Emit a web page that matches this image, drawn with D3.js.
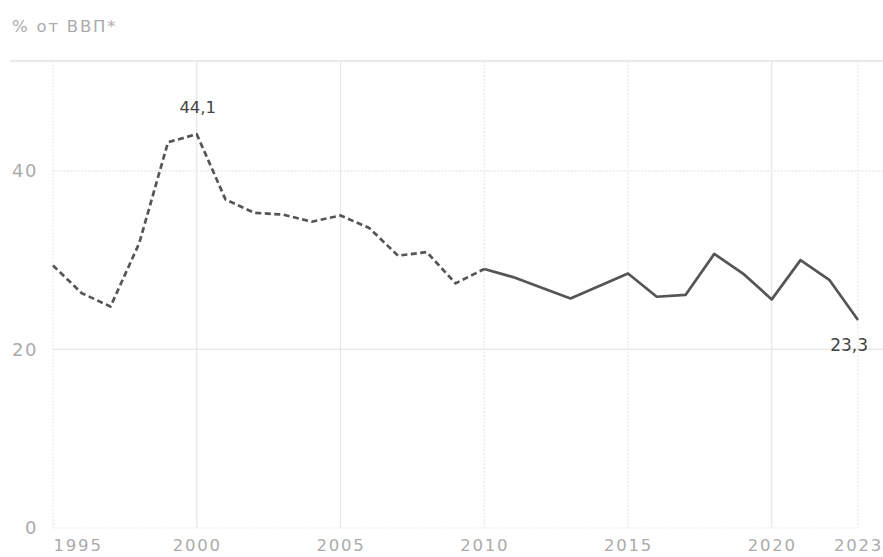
<!DOCTYPE html>
<html>
<head>
<meta charset="utf-8">
<script src="https://cdn.jsdelivr.net/npm/d3@7"></script>
<style>
  html, body { margin: 0; padding: 0; background: #fff; }
  svg { display: block; }
  text { font-family: "DejaVu Sans", sans-serif; }
</style>
</head>
<body>
<svg id="chart" width="883" height="557"></svg>
<script>
// ---- data ----
const years = [1995,1996,1997,1998,1999,2000,2001,2002,2003,2004,2005,2006,2007,2008,2009,
               2010,2011,2012,2013,2014,2015,2016,2017,2018,2019,2020,2021,2022,2023];
const values = [29.4,26.3,24.8,31.9,43.2,44.1,36.8,35.3,35.1,34.3,35.0,33.6,30.5,30.9,27.4,
                29.0,28.1,26.9,25.7,27.1,28.5,25.9,26.1,30.7,28.5,25.6,30.0,27.8,23.3];
const dashedUntil = 2010;           // dashed segment 1995–2010, solid after
const xTicks = [1995, 2000, 2005, 2010, 2015, 2020, 2023];
const yTicks = [0, 20, 40];
const yTop = 52.3;
const unitLabel = "% от ВВП*";
const annotations = [
  { year: 2000, value: 44.1, text: "44,1" },
  { year: 2023, value: 23.3, text: "23,3" }
];

// ---- layout ----
const svg = d3.select("#chart");
const x = d3.scaleLinear().domain([1995, 2023]).range([53, 858]);
const y = d3.scaleLinear().domain([0, yTop]).range([528, 61]);
const grid = "#e6e6e6";
const labelColor = "#ababab";

// title
svg.append("text").attr("x", 12).attr("y", 32)
  .attr("font-size", 16.5).attr("letter-spacing", 1.8).attr("fill", labelColor).text(unitLabel);

// top frame line
svg.append("line").attr("x1", 10).attr("x2", 883)
  .attr("y1", y(yTop)).attr("y2", y(yTop))
  .attr("stroke", "#e3e3e3").attr("stroke-width", 1.5);

// vertical gridlines
svg.append("g").selectAll("line").data(xTicks).join("line")
  .attr("x1", d => x(d)).attr("x2", d => x(d))
  .attr("y1", y(yTop)).attr("y2", y(0))
  .attr("stroke", grid).attr("stroke-width", 1.2)
  .attr("stroke-dasharray", d => (d === 1995 || d === 2010 || d === 2015 || d === 2023) ? "2,1.5" : null);

// horizontal gridlines
svg.append("g").selectAll("line").data(yTicks).join("line")
  .attr("x1", 53).attr("x2", d => d === 0 ? 858 : 883)
  .attr("y1", d => y(d)).attr("y2", d => y(d))
  .attr("stroke", grid).attr("stroke-width", 1.2)
  .attr("stroke-dasharray", d => (d === 0 || d === 40) ? "2,1.5" : null);

// y axis labels
const yAxis = d3.axisLeft(y).tickValues(yTicks).tickSize(0).tickPadding(0).tickFormat(d3.format("d"));
const gy = svg.append("g").attr("transform", "translate(38,0)").call(yAxis);
gy.select(".domain").remove();
gy.selectAll("text").attr("font-size", 18).attr("letter-spacing", 1.5).attr("fill", labelColor)
  .attr("font-family", "DejaVu Sans, sans-serif");

// x axis labels
const xAxis = d3.axisBottom(x).tickValues(xTicks).tickSize(0).tickPadding(0).tickFormat(d3.format("d"));
const gx = svg.append("g").attr("transform", "translate(0,551)").call(xAxis);
gx.select(".domain").remove();
gx.selectAll("text").attr("font-size", 16.5).attr("letter-spacing", 1.8).attr("fill", labelColor)
  .attr("font-family", "DejaVu Sans, sans-serif")
  .attr("text-anchor", d => d === 1995 ? "start" : "middle")
  .attr("y", 0).attr("dy", 0);

// line
const pts = years.map((yr, i) => ({ yr, v: values[i] }));
const line = d3.line().x(d => x(d.yr)).y(d => y(d.v));
svg.append("path").datum(pts.filter(d => d.yr <= dashedUntil))
  .attr("d", line).attr("fill", "none").attr("stroke", "#555")
  .attr("stroke-width", 2.7).attr("stroke-dasharray", "6,3.5").attr("stroke-linejoin", "round");
svg.append("path").datum(pts.filter(d => d.yr >= dashedUntil))
  .attr("d", line).attr("fill", "none").attr("stroke", "#555")
  .attr("stroke-width", 2.7).attr("stroke-linejoin", "round");

// annotations
svg.append("text").attr("x", x(annotations[0].year) + 1).attr("y", y(annotations[0].value) - 21)
  .attr("text-anchor", "middle").attr("font-size", 16.5).attr("fill", "#444")
  .text(annotations[0].text);
svg.append("text").attr("x", x(annotations[1].year) + 10).attr("y", y(annotations[1].value) + 31)
  .attr("text-anchor", "end").attr("font-size", 17).attr("fill", "#444")
  .text(annotations[1].text);
</script>
</body>
</html>
